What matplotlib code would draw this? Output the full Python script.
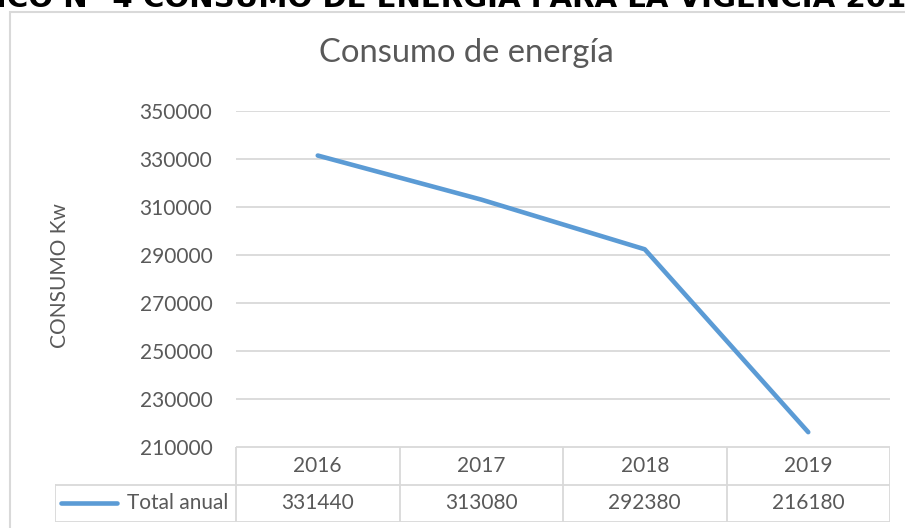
import matplotlib
matplotlib.use("Agg")
import matplotlib.pyplot as plt
from matplotlib.patches import Rectangle

# consumo anual de energía
years = ["2016", "2017", "2018", "2019"]
total_anual = [331440, 313080, 292380, 216180]
y_ticks = [210000, 230000, 250000, 270000, 290000, 310000, 330000, 350000]
series_name = "Total anual"
chart_title = "Consumo de energía"
y_label = "CONSUMO Kw"
heading = "GRÁFICO N° 4 CONSUMO DE ENERGÍA PARA LA VIGENCIA 2016-2019"
heading_prefix = "GRÁF"

W, H = 905, 528
BLUE = "#5B9BD5"
GRID = "#D9D9D9"
TXT = "#595959"

plt.rcParams['font.family'] = ['Lato', 'DejaVu Sans']

fig = plt.figure(figsize=(W / 100, H / 100), dpi=100)


def fx(px):
    return px / W


def fy(py):
    return 1 - py / H


# chart frame
fig.patches.append(Rectangle((fx(10), fy(540)), fx(920) - fx(10), fy(12) - fy(540),
                             transform=fig.transFigure, fill=False,
                             edgecolor=GRID, linewidth=1.5))

# heading above the chart, partly off the top edge
renderer = fig.canvas.get_renderer()
probe = fig.text(0, 0, heading[len(heading_prefix):len(heading_prefix) + 48],
                 fontsize=20, fontweight='bold', family='DejaVu Sans')
w20 = probe.get_window_extent(renderer).width
probe.remove()
hsize = 20 * 912 / w20
probe = fig.text(0, 0, heading_prefix, fontsize=hsize, fontweight='bold', family='DejaVu Sans')
pre_w = probe.get_window_extent(renderer).width
probe.remove()
fig.text(fx(-4 - pre_w), fy(7), heading, fontsize=hsize, fontweight='bold',
         family='DejaVu Sans', color='black', va='baseline', ha='left')

# plot area
ax = fig.add_axes([fx(236), fy(447), fx(890) - fx(236), fy(111) - fy(447)])
x = list(range(len(years)))
ax.plot(x, total_anual, color=BLUE, linewidth=3.3, solid_capstyle='round',
        solid_joinstyle='round', zorder=3)
ax.set_xlim(-0.5, len(years) - 0.5)
ax.set_ylim(y_ticks[0], y_ticks[-1])
ax.set_yticks(y_ticks)
ax.set_yticklabels([str(v) for v in y_ticks])
ax.set_xticks([])
ax.tick_params(axis='y', length=0, pad=17, labelsize=15, labelcolor=TXT)
ax.grid(axis='y', color=GRID, linewidth=1.3)
ax.set_axisbelow(True)
for s in ax.spines.values():
    s.set_visible(False)

fig.text(fx(466), fy(62), chart_title, fontsize=23.6, color=TXT,
         ha='center', va='baseline')
fig.text(fx(60), fy(276), y_label, fontsize=15, color=TXT,
         rotation=90, ha='center', va='center')

# data table under the plot
lab_w = (236 - 55) / 163.5
tb = fig.add_axes([fx(55), fy(522), fx(890) - fx(55), fy(447) - fy(522)])
tb.set_xlim(-0.5 - lab_w, len(years) - 0.5)
tb.set_ylim(2, 0)
tb.axis('off')
left = -0.5 - lab_w
lw = 1.3
tb.plot([-0.5, len(years) - 0.5], [0, 0], color=GRID, lw=lw)
tb.plot([left, len(years) - 0.5], [1, 1], color=GRID, lw=lw)
tb.plot([left, len(years) - 0.5], [2, 2], color=GRID, lw=lw)
tb.plot([left, left], [1, 2], color=GRID, lw=lw)
for i in range(len(years) + 1):
    tb.plot([i - 0.5, i - 0.5], [0, 2], color=GRID, lw=lw)
for i, (yr, v) in enumerate(zip(years, total_anual)):
    tb.text(i, 0.5, yr, ha='center', va='center', fontsize=15, color=TXT)
    tb.text(i, 1.5, str(v), ha='center', va='center', fontsize=15, color=TXT)

# legend key inside the label cell
key0 = left + 6 / 163.5
key1 = left + 62 / 163.5
tb.plot([key0, key1], [1.5, 1.5], color=BLUE, lw=3.3, solid_capstyle='round')
tb.text(-0.5 - 8 / 163.5, 1.5, series_name, ha='right', va='center',
        fontsize=15, color=TXT)

fig.savefig("out.png", dpi=100)
